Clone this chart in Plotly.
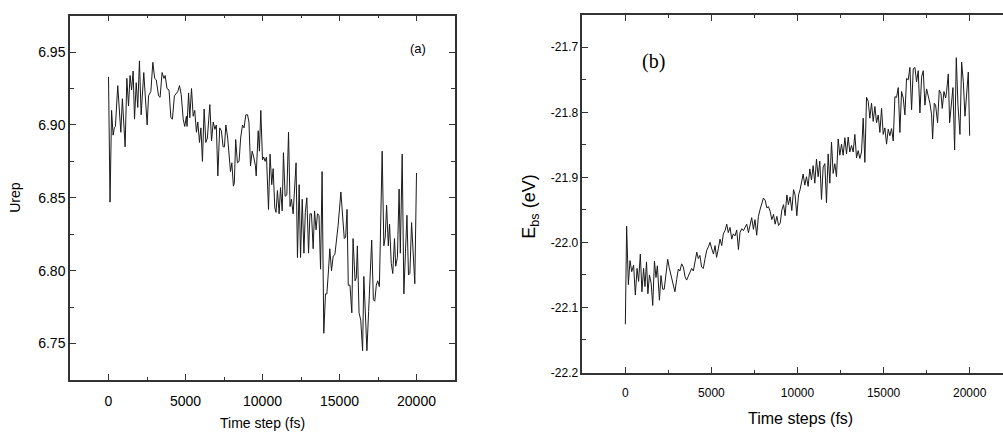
import plotly.graph_objects as go

# ---------------- data: panel (a) ----------------
t_a = [0, 100, 200, 300, 380, 450, 600, 700, 800, 900, 1080, 1190, 1300, 1400, 1500, 1600, 1690, 1800, 1900, 2010,
       2120, 2290, 2510, 2600, 2750, 2880, 3000, 3100, 3250, 3350, 3480, 3600, 3680, 3800, 3930, 4050, 4150, 4280, 4400, 4500,
       4610, 4720, 4850, 4950, 5060, 5100, 5200, 5280, 5390, 5500, 5600, 5710, 5800, 5910, 6000, 6100, 6210, 6320, 6420, 6580,
       6690, 6800, 6910, 7000, 7100, 7220, 7330, 7440, 7530, 7620, 7740, 7820, 7920, 8010, 8110, 8170, 8260, 8370, 8480, 8580,
       8700, 8800, 8920, 9030, 9120, 9220, 9330, 9430, 9540, 9590, 9720, 9800, 9890, 10000, 10080, 10170, 10260, 10390, 10490, 10600,
       10690, 10800, 10880, 10970, 11080, 11170, 11280, 11360, 11470, 11580, 11690, 11790, 11880, 11990, 12090, 12180, 12270, 12380, 12470, 12580,
       12690, 12780, 12880, 12990, 13080, 13180, 13290, 13380, 13480, 13570, 13670, 13770, 13870, 13980, 14090, 14180, 14290, 14370, 14480, 14590,
       14700, 14800, 14910, 15090, 15200, 15310, 15400, 15490, 15570, 15680, 15800, 15880, 16010, 16090, 16160, 16270, 16380, 16500, 16580, 16690,
       16780, 16890, 17000, 17090, 17200, 17290, 17390, 17480, 17590, 17670, 17770, 17880, 17970, 18060, 18170, 18250, 18360, 18460, 18570, 18650,
       18760, 18870, 18950, 19070, 19180, 19280, 19380, 19480, 19570, 19680, 19790, 19890, 20000]
urep = [6.933, 6.847, 6.910, 6.893, 6.898, 6.899, 6.927, 6.909, 6.895, 6.918, 6.885, 6.932, 6.913, 6.934, 6.924, 6.937, 6.904, 6.929, 6.912, 6.944,
        6.907, 6.936, 6.900, 6.920, 6.923, 6.943, 6.932, 6.931, 6.920, 6.919, 6.936, 6.932, 6.934, 6.925, 6.924, 6.905, 6.904, 6.920, 6.922, 6.923,
        6.927, 6.921, 6.904, 6.899, 6.906, 6.899, 6.922, 6.905, 6.925, 6.906, 6.910, 6.895, 6.902, 6.888, 6.898, 6.875, 6.911, 6.888, 6.891, 6.914,
        6.889, 6.902, 6.897, 6.900, 6.865, 6.898, 6.896, 6.885, 6.885, 6.900, 6.891, 6.878, 6.868, 6.874, 6.858, 6.860, 6.890, 6.874, 6.875, 6.891,
        6.900, 6.898, 6.907, 6.907, 6.902, 6.872, 6.882, 6.878, 6.872, 6.865, 6.896, 6.882, 6.910, 6.876, 6.878, 6.875, 6.878, 6.842, 6.880, 6.859,
        6.870, 6.843, 6.840, 6.855, 6.839, 6.857, 6.841, 6.881, 6.851, 6.852, 6.895, 6.844, 6.849, 6.839, 6.856, 6.874, 6.809, 6.859, 6.809, 6.849,
        6.812, 6.840, 6.850, 6.812, 6.839, 6.839, 6.815, 6.841, 6.828, 6.839, 6.838, 6.801, 6.868, 6.757, 6.784, 6.784, 6.801, 6.815, 6.800, 6.810,
        6.811, 6.819, 6.831, 6.854, 6.839, 6.822, 6.823, 6.842, 6.790, 6.790, 6.771, 6.822, 6.793, 6.795, 6.817, 6.771, 6.766, 6.745, 6.796, 6.759,
        6.745, 6.772, 6.799, 6.821, 6.780, 6.779, 6.790, 6.793, 6.789, 6.832, 6.882, 6.817, 6.823, 6.845, 6.817, 6.832, 6.805, 6.798, 6.822, 6.803,
        6.809, 6.856, 6.812, 6.880, 6.784, 6.812, 6.838, 6.797, 6.798, 6.833, 6.807, 6.791, 6.867]

# ---------------- data: panel (b) ----------------
t_b = [0, 75, 175, 270, 370, 480, 580, 680, 770, 870, 965, 1060, 1140, 1230, 1310, 1400, 1500, 1590, 1690, 1780,
       1860, 1980, 2070, 2170, 2260, 2350, 2460, 2550, 2650, 2780, 2880, 2980, 3080, 3170, 3270, 3370, 3470, 3560, 3660, 3760,
       3850, 3950, 4050, 4150, 4240, 4330, 4430, 4530, 4630, 4730, 4820, 4920, 5020, 5120, 5210, 5300, 5400, 5500, 5600, 5690,
       5790, 5890, 5980, 6080, 6180, 6270, 6370, 6470, 6570, 6660, 6760, 6860, 6950, 7050, 7150, 7240, 7340, 7440, 7530, 7630,
       7730, 7830, 7920, 8020, 8120, 8220, 8310, 8410, 8510, 8610, 8700, 8800, 8900, 9000, 9090, 9190, 9280, 9380, 9470, 9570,
       9670, 9770, 9860, 9960, 10060, 10150, 10327, 10424, 10521, 10618, 10715, 10812, 10909, 11006, 11102, 11199, 11296, 11393, 11490, 11587,
       11684, 11781, 11878, 11975, 12071, 12168, 12265, 12362, 12459, 12556, 12653, 12750, 12847, 12944, 13040, 13137, 13234, 13331, 13428, 13525,
       13622, 13719, 13816, 13913, 14009, 14106, 14203, 14300, 14397, 14494, 14591, 14688, 14785, 14882, 14978, 15075, 15172, 15269, 15366, 15463,
       15560, 15657, 15754, 15851, 15947, 16044, 16141, 16238, 16335, 16432, 16529, 16626, 16723, 16820, 16916, 17013, 17110, 17207, 17304, 17401,
       17498, 17595, 17692, 17789, 17847, 17944, 18021, 18137, 18234, 18331, 18409, 18506, 18603, 18661, 18758, 18835, 18932, 19029, 19126, 19223,
       19320, 19436, 19533, 19630, 19727, 19824, 19921, 20000]
ebs = [-22.126, -21.975, -22.065, -22.028, -22.045, -22.035, -22.081, -22.040, -22.060, -22.018, -22.076, -22.040, -22.068, -22.030, -22.079, -22.050, -22.063, -22.097, -22.029, -22.054,
       -22.036, -22.089, -22.051, -22.072, -22.072, -22.046, -22.026, -22.039, -22.051, -22.062, -22.076, -22.057, -22.041, -22.044, -22.033, -22.038, -22.053, -22.058, -22.051, -22.046,
       -22.040, -22.044, -22.031, -22.015, -22.025, -22.020, -22.038, -22.040, -22.025, -22.012, -22.007, -22.000, -22.010, -22.018, -22.005, -22.023, -22.010, -21.995, -22.005, -21.987,
       -21.982, -21.972, -21.985, -21.977, -21.995, -21.987, -21.990, -21.981, -22.011, -21.985, -21.979, -21.982, -21.977, -21.972, -21.985, -21.975, -21.962, -21.980, -21.965, -21.989,
       -21.960, -21.949, -21.940, -21.932, -21.935, -21.947, -21.945, -21.952, -21.965, -21.957, -21.972, -21.960, -21.974, -21.970, -21.950, -21.942, -21.959, -21.927, -21.942, -21.930,
       -21.951, -21.919, -21.927, -21.959, -21.927, -21.919, -21.895, -21.912, -21.899, -21.914, -21.887, -21.904, -21.882, -21.909, -21.872, -21.899, -21.875, -21.934, -21.884, -21.879,
       -21.939, -21.864, -21.909, -21.846, -21.894, -21.879, -21.899, -21.841, -21.866, -21.849, -21.866, -21.839, -21.864, -21.838, -21.861, -21.851, -21.861, -21.834, -21.870, -21.859,
       -21.871, -21.861, -21.809, -21.877, -21.777, -21.783, -21.809, -21.786, -21.814, -21.791, -21.816, -21.804, -21.831, -21.794, -21.834, -21.824, -21.849, -21.826, -21.836, -21.825,
       -21.844, -21.776, -21.777, -21.762, -21.831, -21.768, -21.778, -21.804, -21.748, -21.750, -21.731, -21.796, -21.733, -21.731, -21.753, -21.736, -21.801, -21.746, -21.736, -21.789,
       -21.764, -21.776, -21.786, -21.804, -21.841, -21.786, -21.789, -21.816, -21.766, -21.771, -21.794, -21.768, -21.778, -21.768, -21.741, -21.816, -21.789, -21.762, -21.858, -21.716,
       -21.789, -21.834, -21.723, -21.753, -21.806, -21.768, -21.738, -21.836]

assert len(t_a) == len(urep), (len(t_a), len(urep))
assert len(t_b) == len(ebs), (len(t_b), len(ebs))

# ---------------- tick labels ----------------
xticks = [0, 5000, 10000, 15000, 20000]
xticklabels = ["0", "5000", "10000", "15000", "20000"]
yticks_a = [6.75, 6.80, 6.85, 6.90, 6.95]
yticklabels_a = ["6.75", "6.80", "6.85", "6.90", "6.95"]
yticks_b = [-22.2, -22.1, -22.0, -21.9, -21.8, -21.7]
yticklabels_b = ["-22.2", "-22.1", "-22.0", "-21.9", "-21.8", "-21.7"]

W, H = 1003, 439
LINE = "#333333"
FONT = "Liberation Sans, Arial, sans-serif"

fig = go.Figure()
fig.add_trace(go.Scatter(x=t_a, y=urep, mode="lines", line=dict(color="#1a1a1a", width=1),
                         xaxis="x", yaxis="y", showlegend=False, hoverinfo="skip"))
fig.add_trace(go.Scatter(x=t_b, y=ebs, mode="lines", line=dict(color="#1a1a1a", width=1),
                         xaxis="x2", yaxis="y2", showlegend=False, hoverinfo="skip"))

common = dict(showline=True, linecolor=LINE, linewidth=1.5, ticks="inside", tickcolor=LINE,
              tickwidth=1, showgrid=False, zeroline=False, color="black")


def px(x):
    return x / W


def py(y):
    return 1 - y / H


fig.update_layout(
    width=W, height=H,
    margin=dict(l=0, r=0, t=0, b=0),
    paper_bgcolor="white", plot_bgcolor="white",
    xaxis=dict(domain=[px(70), px(455)], range=[-2500, 22500], tickvals=xticks, ticktext=xticklabels,
               ticklen=6, mirror="ticks", anchor="y", ticklabelstandoff=8,
               minor=dict(dtick=2500, tick0=0, ticks="inside", ticklen=3, tickcolor=LINE, showgrid=False),
               tickfont=dict(family=FONT, size=14, color="black"), **common),
    yaxis=dict(domain=[py(386), py(16)], range=[6.725, 6.975], tickvals=yticks_a, ticktext=yticklabels_a,
               ticklen=6, mirror="ticks", anchor="x",
               minor=dict(dtick=0.025, tick0=6.75, ticks="inside", ticklen=4, tickcolor=LINE, showgrid=False),
               tickfont=dict(family=FONT, size=14, color="black"), **common),
    xaxis2=dict(domain=[px(582.3), 1.0], range=[-2500, 21936], tickvals=xticks, ticktext=xticklabels,
                ticklen=6, mirror="ticks", anchor="y2", ticklabelstandoff=8,
                minor=dict(dtick=2500, tick0=0, ticks="inside", ticklen=3, tickcolor=LINE, showgrid=False),
                tickfont=dict(family=FONT, size=12, color="black"), **common),
    yaxis2=dict(domain=[py(379), py(15)], range=[-22.2008, -21.65], tickvals=yticks_b, ticktext=yticklabels_b,
                ticklen=6, mirror=False, anchor="x2",
                minor=dict(dtick=0.05, tick0=-22.2, ticks="inside", ticklen=4, tickcolor=LINE, showgrid=False),
                tickfont=dict(family=FONT, size=12, color="black"), **common),
)


def ann(text, x, y, size, family=FONT, angle=0):
    fig.add_annotation(text=text, x=px(x), y=py(y), xref="paper", yref="paper", showarrow=False,
                       xanchor="center", yanchor="middle", textangle=angle,
                       font=dict(family=family, size=size, color="black"))


ann("Urep", 15, 201, 14, angle=-90)
ann("Time step (fs)", 262, 430, 14)
ann("E<sub>bs</sub> (eV)", 531, 210, 18, angle=-90)
ann("Time steps (fs)", 800, 425, 16)
ann("(a)", 418, 49, 13)
ann("(b)", 653, 63, 20, family="Liberation Serif, Times New Roman, serif")

fig.write_html("out.html")
